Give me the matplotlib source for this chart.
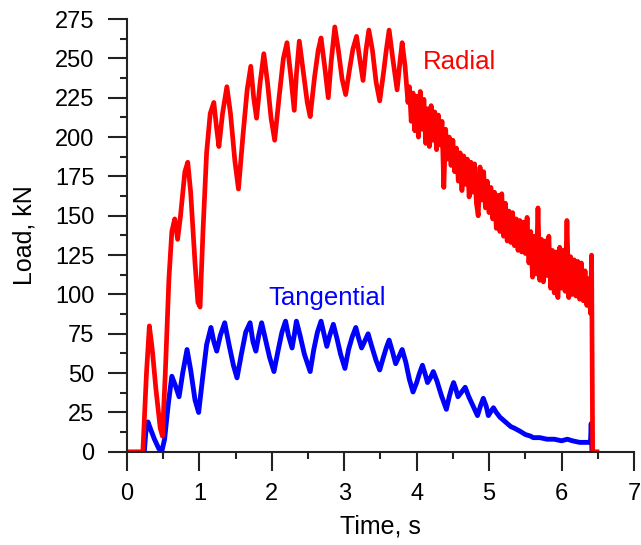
import matplotlib
matplotlib.use("Agg")
import matplotlib.pyplot as plt
from matplotlib.ticker import MultipleLocator

plt.rcParams['font.family'] = ['Liberation Sans', 'DejaVu Sans']

# Radial load, smooth oscillating part (s, kN)
radial_t = [0.00, 0.22, 0.27, 0.31, 0.35, 0.40, 0.46, 0.49, 0.53, 0.58, 0.62, 0.66,
            0.70, 0.74, 0.80, 0.84, 0.88, 0.94, 0.98, 1.01, 1.05, 1.10, 1.15, 1.20,
            1.24, 1.27, 1.32, 1.38, 1.43, 1.49, 1.54, 1.60, 1.66, 1.71, 1.75, 1.79,
            1.84, 1.89, 1.94, 1.99, 2.04, 2.10, 2.16, 2.21, 2.26, 2.31, 2.34, 2.38,
            2.44, 2.49, 2.53, 2.59, 2.64, 2.68, 2.73, 2.78, 2.82, 2.87, 2.92, 2.97,
            3.02, 3.08, 3.12, 3.17, 3.22, 3.26, 3.30, 3.34, 3.39, 3.44, 3.49, 3.54,
            3.58, 3.62, 3.67, 3.73, 3.77, 3.80, 3.84, 3.88]
radial_f = [0, 0, 50, 80, 65, 40, 15, 10, 50, 110, 140, 148,
            135, 150, 178, 184, 165, 120, 95, 92, 140, 190, 215, 222,
            205, 194, 215, 232, 215, 185, 167, 200, 230, 245, 225, 212,
            235, 253, 235, 212, 198, 225, 250, 260, 240, 217, 240, 261,
            240, 222, 213, 238, 255, 263, 245, 225, 248, 270, 255, 237,
            227, 245, 256, 264, 248, 236, 255, 268, 255, 235, 223, 240,
            255, 268, 250, 230, 248, 260, 245, 222]

# Radial load, noisy decaying part (s, kN)
radial_noisy_t = [3.900, 3.925, 3.950, 3.975, 4.000, 4.025, 4.050, 4.075,
                  4.100, 4.125, 4.150, 4.175, 4.200, 4.225, 4.250, 4.275,
                  4.300, 4.325, 4.350, 4.375, 4.400, 4.425, 4.450, 4.475,
                  4.500, 4.525, 4.550, 4.575, 4.600, 4.625, 4.650, 4.675,
                  4.700, 4.725, 4.750, 4.775, 4.800, 4.825, 4.850, 4.875,
                  4.900, 4.925, 4.950, 4.975, 5.000, 5.025, 5.050, 5.075,
                  5.100, 5.125, 5.150, 5.175, 5.200, 5.225, 5.250, 5.275,
                  5.300, 5.325, 5.350, 5.375, 5.400, 5.425, 5.450, 5.475,
                  5.500, 5.525, 5.550, 5.575, 5.600, 5.625, 5.650, 5.675,
                  5.700, 5.725, 5.750, 5.775, 5.800, 5.825, 5.850, 5.875,
                  5.900, 5.925, 5.950, 5.975, 6.000, 6.025, 6.050, 6.075,
                  6.100, 6.125, 6.150, 6.175, 6.200, 6.225, 6.250, 6.275,
                  6.300, 6.325, 6.350, 6.375, 6.400, 6.415, 6.430, 6.490]
radial_noisy_f = [232, 210, 228, 204, 226, 200, 229, 205,
                  224, 196, 218, 194, 220, 198, 216, 192,
                  214, 195, 210, 168, 205, 186, 200, 182,
                  198, 178, 193, 172, 190, 166, 188, 170,
                  186, 162, 184, 165, 183, 158, 150, 181,
                  160, 178, 155, 172, 152, 168, 148, 165,
                  142, 163, 140, 164, 137, 158, 134, 153,
                  133, 152, 131, 148, 128, 147, 127, 146,
                  126, 149, 120, 140, 111, 137, 113, 155,
                  109, 135, 108, 134, 112, 137, 104, 128,
                  101, 127, 98, 130, 104, 128, 102, 147,
                  98, 124, 100, 122, 99, 121, 97, 120,
                  96, 115, 93, 110, 88, 125, 0, 0]

# Tangential load (s, kN)
tang_t = [0.24, 0.26, 0.29, 0.33, 0.38, 0.44, 0.48, 0.52, 0.57, 0.62, 0.67, 0.72,
          0.77, 0.83, 0.88, 0.94, 0.99, 1.04, 1.10, 1.16, 1.20, 1.24, 1.29, 1.35,
          1.41, 1.47, 1.52, 1.58, 1.64, 1.70, 1.74, 1.78, 1.82, 1.86, 1.91, 1.97,
          2.03, 2.09, 2.14, 2.19, 2.23, 2.28, 2.31, 2.34, 2.39, 2.45, 2.53, 2.58,
          2.63, 2.68, 2.72, 2.76, 2.80, 2.85, 2.90, 2.95, 3.01, 3.06, 3.11, 3.16,
          3.20, 3.24, 3.28, 3.33, 3.38, 3.44, 3.49, 3.54, 3.58, 3.62, 3.67, 3.71,
          3.76, 3.80, 3.85, 3.90, 3.95, 4.00, 4.04, 4.08, 4.12, 4.15, 4.19, 4.23,
          4.28, 4.34, 4.41, 4.45, 4.48, 4.51, 4.54, 4.57, 4.62, 4.67, 4.72, 4.78,
          4.84, 4.88, 4.92, 4.96, 4.99, 5.03, 5.06, 5.10, 5.15, 5.20, 5.25, 5.30,
          5.35, 5.43, 5.50, 5.57, 5.61, 5.70, 5.80, 5.90, 6.00, 6.08, 6.15, 6.25,
          6.37, 6.40, 6.41, 6.42]
tang_f = [0, 12, 19, 14, 8, 2, 0, 8, 30, 48, 42, 35,
          50, 65, 52, 33, 25, 45, 68, 79, 70, 64, 74, 82,
          68, 55, 47, 62, 76, 82, 70, 64, 74, 82, 72, 60,
          51, 65, 76, 83, 74, 66, 74, 83, 74, 62, 51, 65,
          76, 83, 75, 67, 74, 81, 72, 62, 53, 65, 73, 79,
          72, 66, 70, 75, 67, 58, 52, 60, 66, 71, 63, 56,
          61, 65, 57, 46, 38, 44, 50, 55, 49, 44, 47, 51,
          45, 36, 27, 35, 40, 44, 40, 35, 38, 41, 35, 29,
          23, 29, 34, 29, 23, 26, 28, 25, 22, 20, 18, 16,
          15, 13, 11, 10, 9, 9, 8, 8, 7, 8, 7, 6,
          6, 6, 18, 0]

fig = plt.figure(figsize=(6.41, 5.45), dpi=100)
ax = fig.add_axes([0.198, 0.171, 0.791, 0.794])

ax.plot(tang_t, tang_f, color='#0000ff', lw=3.5, solid_joinstyle='round')
ax.plot(radial_t + radial_noisy_t, radial_f + radial_noisy_f, color='#ff0000',
        lw=3.4, solid_joinstyle='round')

ax.text(4.09, 248, "Radial", color='#ff0000', fontsize=18.5, va='center')
ax.text(1.95, 98, "Tangential", color='#0000ff', fontsize=18.5, va='center')

ax.set_xlim(0, 7)
ax.set_ylim(0, 275)
ax.xaxis.set_major_locator(MultipleLocator(1))
ax.xaxis.set_minor_locator(MultipleLocator(0.5))
ax.yaxis.set_major_locator(MultipleLocator(25))
ax.yaxis.set_minor_locator(MultipleLocator(12.5))

for s in ['top', 'right']:
    ax.spines[s].set_visible(False)
for s in ['left', 'bottom']:
    ax.spines[s].set_linewidth(1.5)
    ax.spines[s].set_color('#222222')

ax.tick_params(which='major', direction='out', length=13.5, width=1.5,
               labelsize=17, color='#222222')
ax.tick_params(which='minor', direction='out', length=5, width=1.5, color='#222222')
ax.tick_params(axis='x', which='major', pad=9)
ax.tick_params(axis='y', which='major', pad=10)

ax.set_xlabel("Time, s", fontsize=18, labelpad=7)
ax.set_ylabel("Load, kN", fontsize=18, labelpad=13)

fig.savefig("out.png", dpi=100)
